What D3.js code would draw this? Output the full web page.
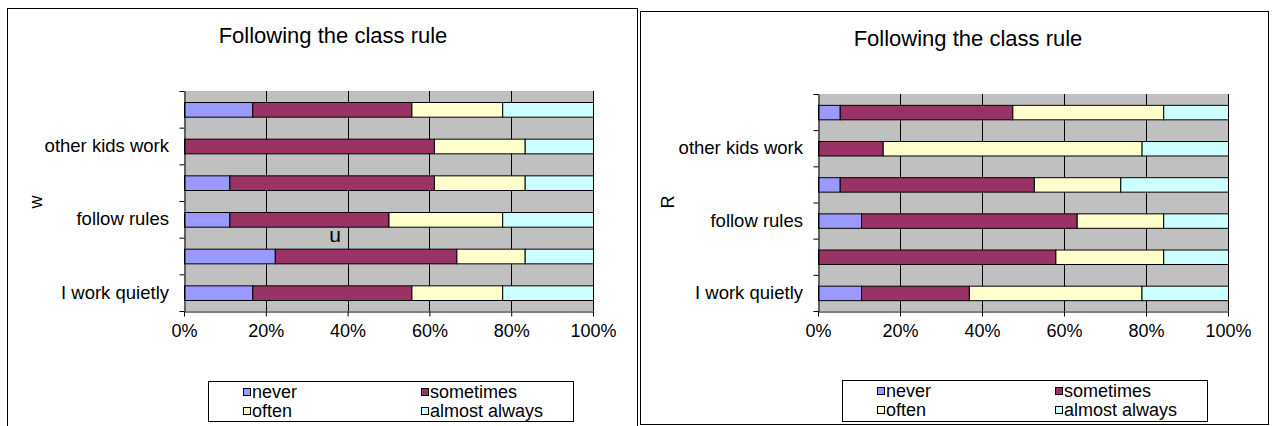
<!DOCTYPE html>
<html>
<head>
<meta charset="utf-8">
<script src="https://cdn.jsdelivr.net/npm/d3@7"></script>
<style>
  html, body { margin: 0; padding: 0; background: #fff; }
  svg { display: block; font-family: "Liberation Sans", Arial, sans-serif; }
</style>
</head>
<body>
<svg id="chart" width="1273" height="426"></svg>
<script>
// categories, bottom to top (Excel only printed every other label)
const categories = ['I work quietly', '', 'follow rules', '', 'other kids work', ''];
const seriesNames = ['never', 'sometimes', 'often', 'almost always'];
const seriesColors = ['#9999FF', '#993366', '#FFFFCC', '#CCFFFF'];
const xTicks = [0, 0.2, 0.4, 0.6, 0.8, 1];

// left chart ("w"), percent of answers
const wNever     = [16.7, 22.2, 11.1, 11.1, 0, 16.7];
const wSometimes = [38.9, 44.4, 38.9, 50.0, 61.1, 38.9];
const wOften     = [22.2, 16.7, 27.8, 22.2, 22.2, 22.2];
const wAlways    = [22.2, 16.7, 22.2, 16.7, 16.7, 22.2];

// right chart ("R")
const rNever     = [10.5, 0, 10.5, 5.3, 0, 5.3];
const rSometimes = [26.3, 57.9, 52.6, 47.4, 15.8, 42.1];
const rOften     = [42.1, 26.3, 21.1, 21.1, 63.2, 36.8];
const rAlways    = [21.1, 15.8, 15.8, 26.3, 21.1, 15.8];

const svg = d3.select('#chart');

function rows(never, sometimes, often, always) {
    return categories.map((c, i) => ({
        idx: i,
        'never': never[i],
        'sometimes': sometimes[i],
        'often': often[i],
        'almost always': always[i]
    }));
}

function drawChart(opt) {
    const g = svg.append('g');
    const f = opt.frame;

    g.append('rect')
        .attr('x', f.x + 0.5).attr('y', f.y + 0.5)
        .attr('width', f.w).attr('height', f.h)
        .attr('fill', '#fff').attr('stroke', '#000');

    g.append('text')
        .attr('x', opt.titleX).attr('y', opt.titleY)
        .attr('text-anchor', 'middle')
        .attr('font-size', 22)
        .text('Following the class rule');

    const p = opt.plot;
    const x = d3.scaleLinear().domain([0, 1]).range([p.left, p.right]);
    const y = d3.scaleBand()
        .domain(d3.range(categories.length))
        .range([p.bottom, p.top])
        .paddingInner(0.6)
        .paddingOuter(0.3);
    const yEdge = d3.scaleLinear().domain([0, categories.length]).range([p.bottom, p.top]);

    g.append('rect')
        .attr('x', p.left).attr('y', p.top)
        .attr('width', p.right - p.left).attr('height', p.bottom - p.top)
        .attr('fill', '#C0C0C0');

    g.append('g')
        .selectAll('line')
        .data(xTicks.slice(1))
        .join('line')
        .attr('x1', (d) => Math.round(x(d)) + 0.5)
        .attr('x2', (d) => Math.round(x(d)) + 0.5)
        .attr('y1', p.top).attr('y2', p.bottom)
        .attr('stroke', '#000');

    const stacked = d3.stack()
        .keys(seriesNames)
        .offset(d3.stackOffsetExpand)(opt.data);

    g.append('g')
        .selectAll('g')
        .data(stacked)
        .join('g')
        .attr('fill', (d, i) => seriesColors[i])
        .selectAll('rect')
        .data((d) => d.filter((s) => s[1] - s[0] > 0))
        .join('rect')
        .attr('x', (d) => x(d[0]) + 0.5)
        .attr('width', (d) => x(d[1]) - x(d[0]))
        .attr('y', (d) => y(d.data.idx) + 0.5)
        .attr('height', y.bandwidth())
        .attr('stroke', '#000')
        .attr('stroke-width', 1);

    // category axis: ticks at band edges, labels at band centres
    const yAxis = g.append('g')
        .attr('transform', `translate(${p.left + 0.5},0)`)
        .call(d3.axisLeft(yEdge).ticks(categories.length).tickSize(5).tickFormat('').tickSizeOuter(0));
    yAxis.select('.domain').attr('stroke', '#000');

    const yLabels = g.append('g')
        .attr('transform', `translate(${p.left},0)`)
        .call(d3.axisLeft(y).tickSize(0).tickPadding(15).tickFormat((d) => categories[d]));
    yLabels.select('.domain').remove();
    yLabels.selectAll('text')
        .attr('font-size', 18.5)
        .attr('font-family', '"Liberation Sans", Arial, sans-serif')
        .attr('fill', '#000');

    const xAxis = g.append('g')
        .attr('transform', `translate(0,${p.bottom + 0.5})`)
        .call(d3.axisBottom(x).tickValues(xTicks).tickSize(5).tickSizeOuter(0).tickPadding(8)
            .tickFormat(d3.format('.0%')));
    xAxis.select('.domain').attr('stroke', '#000');
    xAxis.selectAll('line').attr('stroke', '#000');
    xAxis.selectAll('text')
        .attr('font-size', 18)
        .attr('font-family', '"Liberation Sans", Arial, sans-serif')
        .attr('fill', '#000');

    g.append('text')
        .attr('transform', `translate(${opt.axisTitleX},${opt.axisTitleY}) rotate(-90)`)
        .attr('text-anchor', 'middle')
        .attr('dominant-baseline', 'central')
        .attr('font-size', 18)
        .text(opt.axisTitle);

    if (opt.note) {
        g.append('text')
            .attr('x', opt.note.x).attr('y', opt.note.y)
            .attr('text-anchor', 'middle')
            .attr('font-size', 21)
            .text(opt.note.text);
    }

    // legend
    const l = opt.legend;
    g.append('rect')
        .attr('x', l.x + 0.5).attr('y', l.y + 0.5)
        .attr('width', l.w).attr('height', l.h)
        .attr('fill', '#fff').attr('stroke', '#000');
    const item = g.append('g')
        .selectAll('g')
        .data(seriesNames)
        .join('g')
        .attr('transform', (d, i) => `translate(${l.x + 35 + (i % 2) * 178},${l.y + 7 + Math.floor(i / 2) * 19})`);
    item.append('rect')
        .attr('x', 0.5).attr('y', 0.5)
        .attr('width', 7).attr('height', 7)
        .attr('fill', (d, i) => seriesColors[i])
        .attr('stroke', '#000');
    item.append('text')
        .attr('x', 9).attr('y', 4)
        .attr('dominant-baseline', 'central')
        .attr('font-size', 18)
        .text((d) => d);
}

drawChart({
    frame: { x: 7, y: 8, w: 630, h: 430 },
    titleX: 333, titleY: 43,
    plot: { left: 184, right: 593, top: 91, bottom: 311 },
    data: rows(wNever, wSometimes, wOften, wAlways),
    axisTitle: 'w', axisTitleX: 36, axisTitleY: 202,
    note: { text: 'u', x: 335, y: 242 },
    legend: { x: 208, y: 381, w: 365, h: 40 }
});

drawChart({
    frame: { x: 640, y: 11, w: 628, h: 413 },
    titleX: 968, titleY: 46,
    plot: { left: 818, right: 1228, top: 94, bottom: 311 },
    data: rows(rNever, rSometimes, rOften, rAlways),
    axisTitle: 'R', axisTitleX: 668, axisTitleY: 202,
    legend: { x: 842, y: 380, w: 365, h: 41 }
});
</script>
</body>
</html>
